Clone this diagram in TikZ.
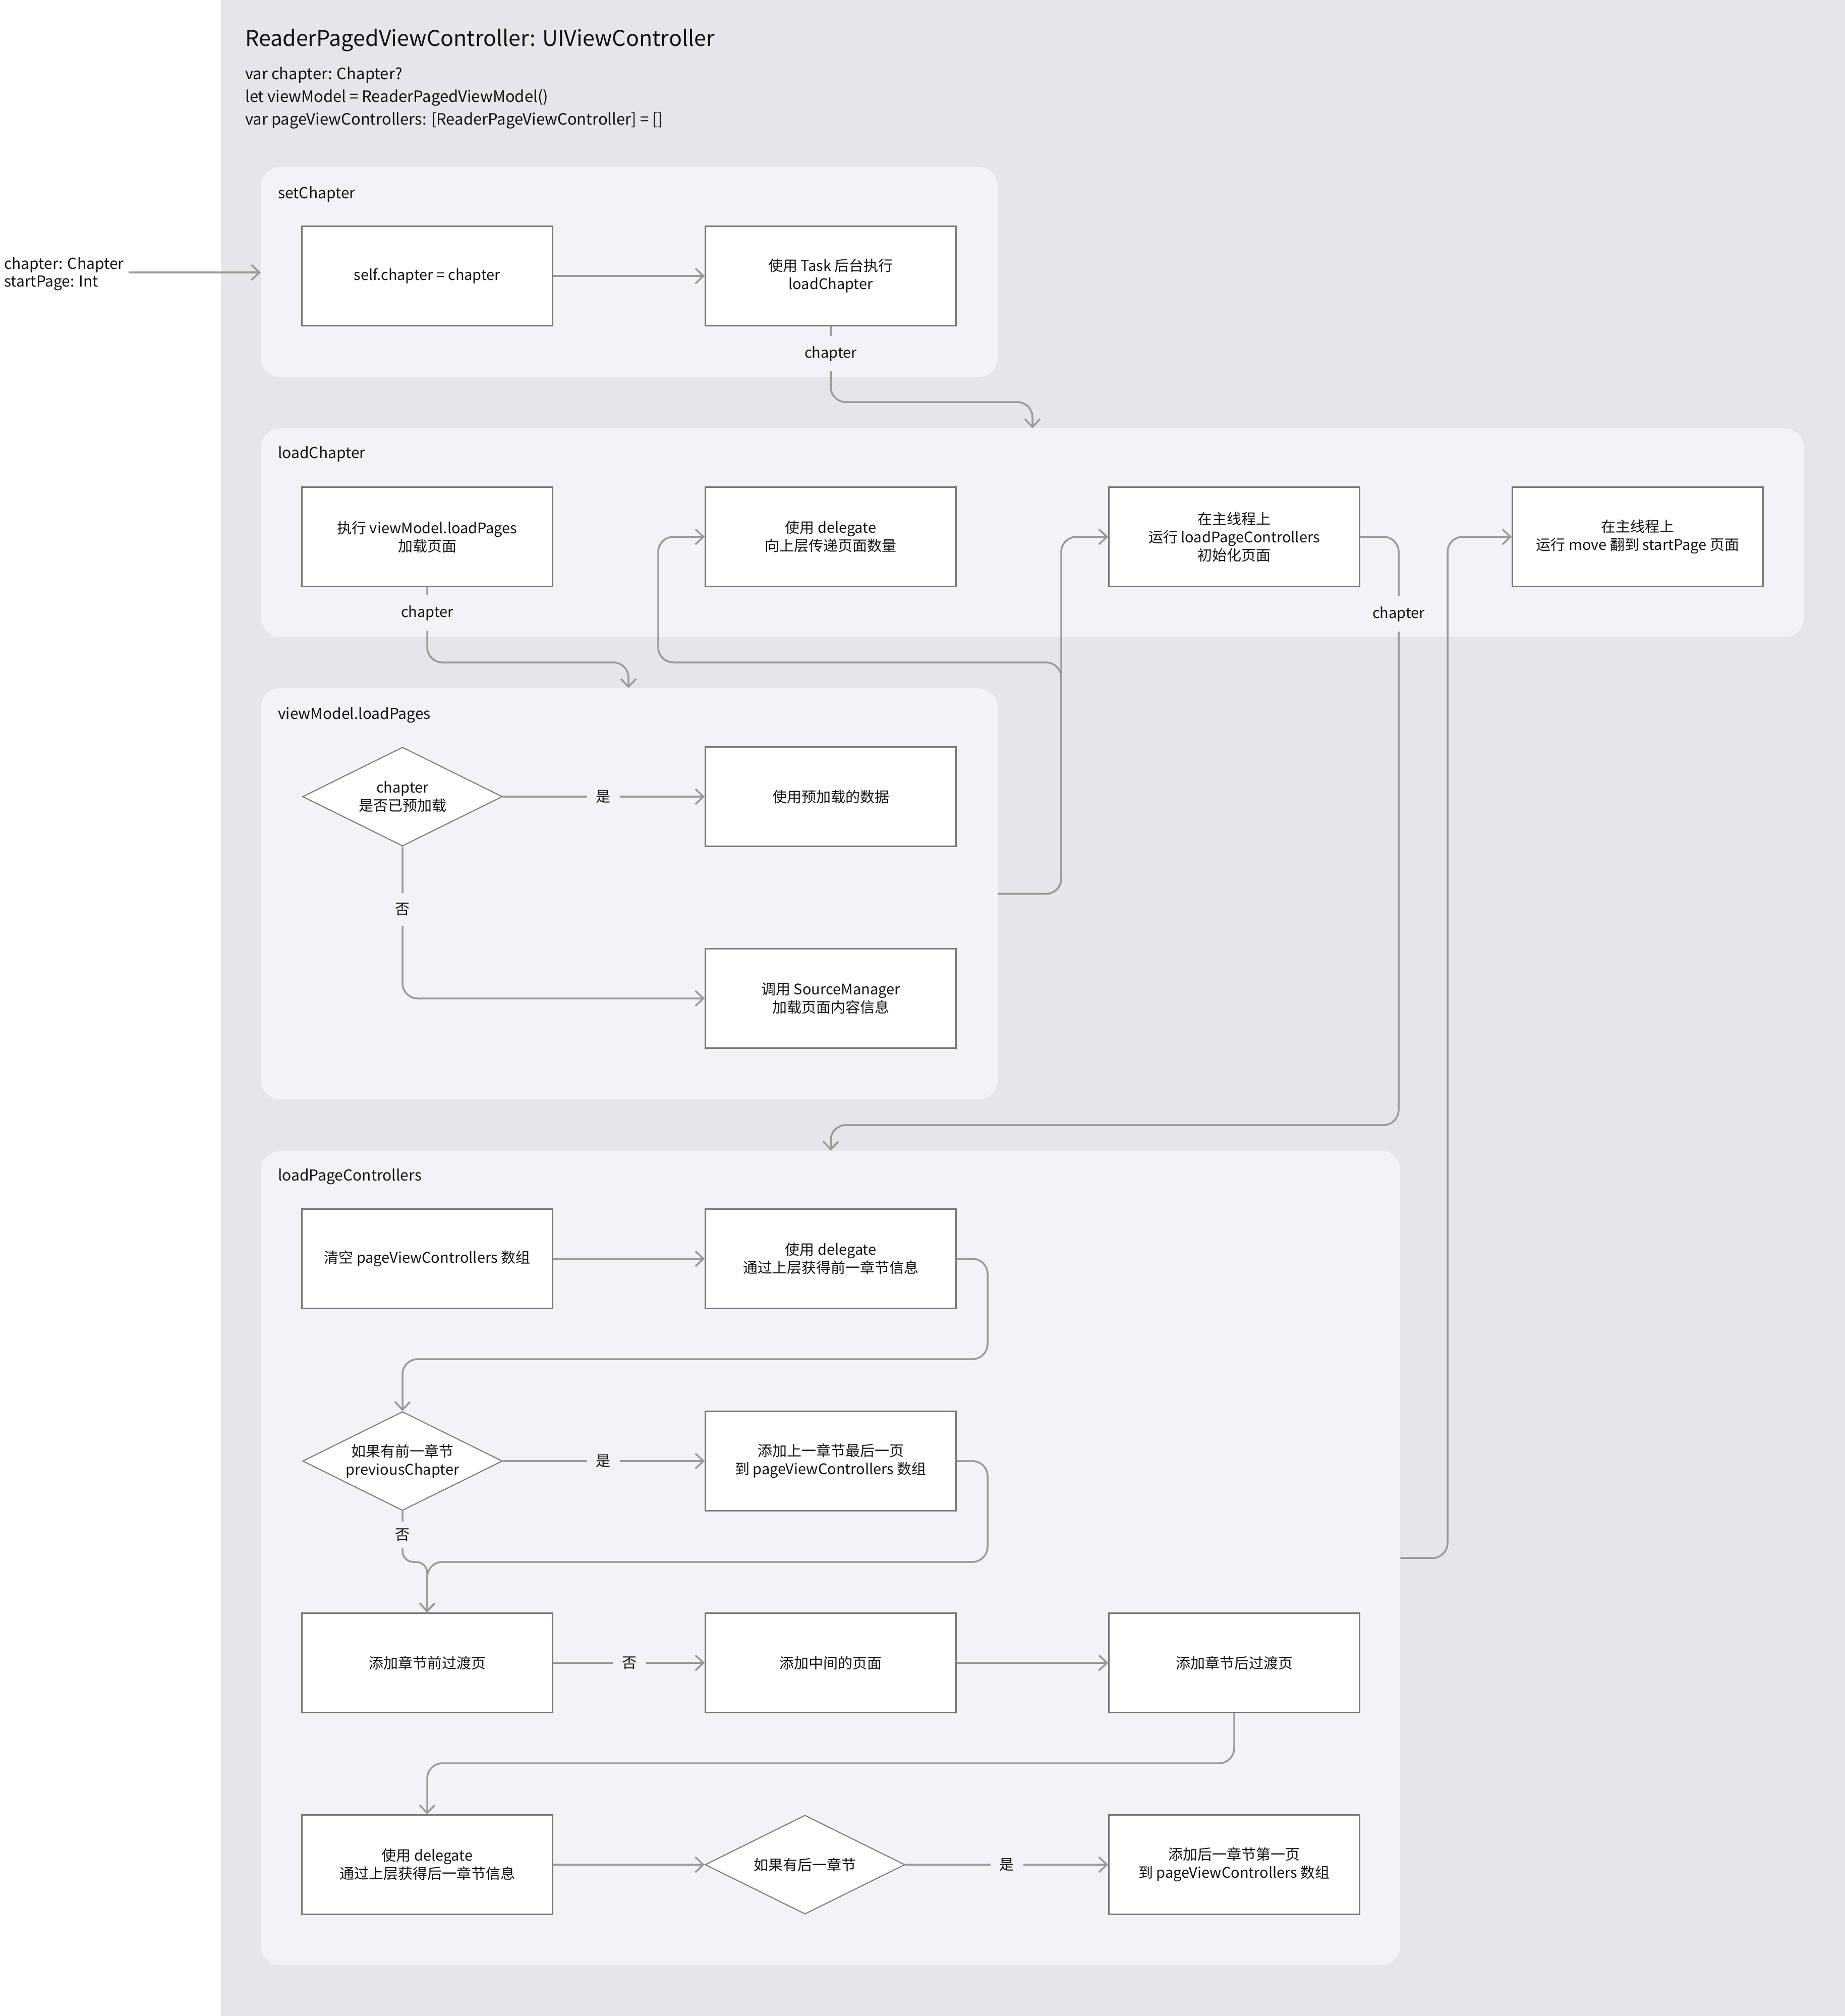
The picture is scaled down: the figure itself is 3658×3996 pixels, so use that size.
\documentclass[tikz,border=0pt]{standalone}
\usepackage{fontspec}
\setmainfont{Noto Sans CJK SC}
\usetikzlibrary{arrows.meta,shapes.geometric,calc}
\definecolor{bggray}{HTML}{E5E5EA}
\definecolor{grpfill}{HTML}{F2F2F7}
\definecolor{boxline}{HTML}{787878}
\definecolor{conncol}{HTML}{9A9A9A}
\definecolor{txt}{HTML}{111111}
\tikzset{
  grp/.style={fill=grpfill, draw=none, rounded corners=38pt, anchor=north west, inner sep=0pt},
  grplabel/.style={anchor=base west, font=\fontsize{30}{36}\selectfont, inner sep=0pt, text=txt},
  stepbox/.style={draw=boxline, line width=2.5pt, fill=white, minimum width=497pt, minimum height=197pt, align=center, font=\fontsize{29}{36}\selectfont, inner sep=0pt, text=txt},
  dia/.style={diamond, draw=boxline, line width=2pt, fill=white, minimum width=396pt, minimum height=196pt, aspect=2, inner sep=0pt, align=center, font=\fontsize{29}{36}\selectfont, text=txt},
  conn/.style={draw=conncol, line width=3.5pt, rounded corners=30pt, -{Straight Barb[length=16pt,width=30pt,line width=3.5pt]}},
  lbl/.style={fill=grpfill, inner xsep=18pt, inner ysep=20pt, font=\fontsize{29}{34}\selectfont, text=txt},
  codetxt/.style={anchor=base west, font=\fontsize{31}{38}\selectfont, inner sep=0pt, text=txt},
}
\begin{document}
\begin{tikzpicture}[x=1pt,y=-1pt]
\useasboundingbox (0,0) rectangle (3658,3996);
\fill[white] (0,0) rectangle (3658,3996);
\fill[bggray] (438,0) rectangle (3658,3996);

% title and properties
\node[anchor=base west, font=\fontsize{43}{52}\selectfont, inner sep=0pt, text=txt] (title) at (486,92) {ReaderPagedViewController: UIViewController};
\node[codetxt] (p1t) at (486,157) {var chapter: Chapter?};
\node[codetxt] (p2t) at (486,202) {let viewModel = ReaderPagedViewModel()};
\node[codetxt] (p3t) at (486,247) {var pageViewControllers: [ReaderPageViewController] = []};

% groups
\node[grp, minimum width=1461pt, minimum height=416pt] (g1) at (517,331) {};
\node[grp, minimum width=3059pt, minimum height=413pt] (g2) at (517,849) {};
\node[grp, minimum width=1461pt, minimum height=815pt] (g3) at (517,1364) {};
\node[grp, minimum width=2259pt, minimum height=1614pt] (g4) at (517,2281) {};
\node[grplabel] (g1l) at (551,393) {setChapter};
\node[grplabel] (g2l) at (551,908) {loadChapter};
\node[grplabel] (g3l) at (551,1425) {viewModel.loadPages};
\node[grplabel] (g4l) at (551,2340) {loadPageControllers};

% input
\node[grplabel] (in1) at (8,533) {chapter: Chapter};
\node[grplabel] (in2) at (8,568) {startPage: Int};
\coordinate (inp) at (255,540);

% setChapter
\node[stepbox] (b1) at (847,547) {self.chapter = chapter};
\node[stepbox] (b2) at (1647,547) {使用 Task 后台执行\\loadChapter};

% loadChapter
\node[stepbox] (c1) at (847,1064) {执行 viewModel.loadPages\\加载页面};
\node[stepbox] (c2) at (1647,1064) {使用 delegate\\向上层传递页面数量};
\node[stepbox] (c3) at (2447,1064) {在主线程上\\运行 loadPageControllers\\初始化页面};
\node[stepbox] (c4) at (3247,1064) {在主线程上\\运行 move 翻到 startPage 页面};

% viewModel.loadPages
\node[dia] (d1) at (798,1579) {chapter\\是否已预加载};
\node[stepbox] (q1) at (1647,1579) {使用预加载的数据};
\node[stepbox] (q2) at (1647,1979) {调用 SourceManager\\加载页面内容信息};

% loadPageControllers
\node[stepbox] (r1a) at (847,2495) {清空 pageViewControllers 数组};
\node[stepbox] (r1b) at (1647,2495) {使用 delegate\\通过上层获得前一章节信息};
\node[dia] (d2) at (798,2896) {如果有前一章节\\previousChapter};
\node[stepbox] (r2b) at (1647,2896) {添加上一章节最后一页\\到 pageViewControllers 数组};
\node[stepbox] (r3a) at (847,3296) {添加章节前过渡页};
\node[stepbox] (r3b) at (1647,3296) {添加中间的页面};
\node[stepbox] (r3c) at (2447,3296) {添加章节后过渡页};
\node[stepbox] (r4a) at (847,3696) {使用 delegate\\通过上层获得后一章节信息};
\node[dia] (d3) at (1596,3696) {如果有后一章节};
\node[stepbox] (r4c) at (2447,3696) {添加后一章节第一页\\到 pageViewControllers 数组};

% waypoints
\coordinate (k1) at (2047,797);
\coordinate (k2) at (1246,1313);
\coordinate (k3) at (2104,1064);
\coordinate (k4) at (2104,1313);
\coordinate (k5) at (1305,1313);
\coordinate (k6) at (2773,2230);
\coordinate (k7) at (2870,1064);
\coordinate (k8) at (1958,2694);
\coordinate (k9) at (1958,3096);
\coordinate (k11) at (2447,3495);

% connectors
\draw[conn] (inp) -- (inp -| g1.west);
\draw[conn] (b1.east) -- (b2.west);
\draw[conn] (b2.south) |- (k1) -- (k1 |- g2.north);
\draw[conn] (c1.south) |- (k2) -- (k2 |- g3.north);
\draw[conn] (g3.east) -| (k3) -- (c3.west);
\draw[conn] (g3.east) -| (k4) -- (k5) |- (c2.west);
\draw[conn] (c3.east) -| (k6) -| (r1b |- g4.north);
\draw[conn] (g4.east) -| (k7) -- (c4.west);
\draw[conn] (d1.east) -- (q1.west);
\draw[conn] (d1.south) |- (q2.west);
\draw[conn] (r1a.east) -- (r1b.west);
\draw[conn] (r1b.east) -| (k8) -| (d2.north);
\draw[conn] (d2.east) -- (r2b.west);
\draw[conn] (r2b.east) -| (k9) -| (r3a.north);
\draw[conn, rounded corners=22pt] (d2.south) |- (r3a.north |- k9) -- (r3a.north);
\draw[conn] (r3a.east) -- (r3b.west);
\draw[conn] (r3b.east) -- (r3c.west);
\draw[conn] (r3c.south) -- (k11) -| (r4a.north);
\draw[conn] (r4a.east) -- (d3.west);
\draw[conn] (d3.east) -- (r4c.west);

% connector labels
\node[lbl] (l1) at (1647,701) {chapter};
\node[lbl] (l2) at (847,1215) {chapter};
\node[lbl] (l3) at (2773,1217) {chapter};
\node[lbl] (l4) at (1196,1579) {是};
\node[lbl] (l5) at (798,1802) {否};
\node[lbl] (l6) at (1196,2896) {是};
\node[lbl, inner ysep=14pt] (l7) at (798,3042) {否};
\node[lbl] (l8) at (1248,3296) {否};
\node[lbl] (l9) at (1996,3696) {是};
\end{tikzpicture}
\end{document}
